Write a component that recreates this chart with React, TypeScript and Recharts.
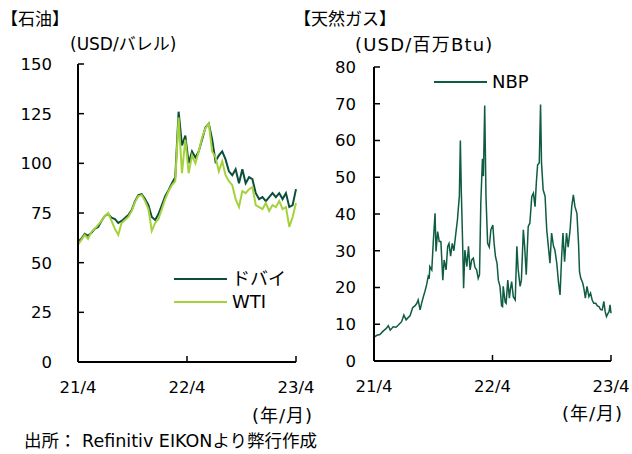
import React from 'react';
import { LineChart, Line, XAxis, YAxis } from 'recharts';

// 石油: ほぼ週次のサンプル(21/4〜23/4, index 0..65)
const oilTickIdx = [0, 32.5, 65];
const oilTickLabels = ['21/4', '22/4', '23/4'];
const oilYTicks = [0, 25, 50, 75, 100, 125, 150];

const dubai = [
  60.5, 62, 64.5, 63.5, 65, 67, 68, 71, 73.5, 74.5,
  72.7, 72, 70, 71, 72.5, 74, 76.5, 81, 84, 84.5,
  82, 79, 73, 71.5, 74.5, 79, 83.5, 86.5, 90, 93,
  126, 109, 114, 100, 106, 103, 106, 112, 118, 120,
  112, 101, 104, 106, 102, 96, 94, 97, 90, 97,
  90, 93, 92, 85, 82, 83, 81, 83, 85, 83,
  85, 82, 85, 78, 79, 87,
];

const wti = [
  59, 61.5, 64, 62, 65.5, 67, 69, 71, 73.5, 75,
  71, 67, 64, 70, 71.5, 73, 76, 80.5, 83.5, 84,
  81, 77, 66, 70, 72, 77, 82, 86, 89, 91,
  123, 95, 112, 95, 104, 100, 106, 113, 117.7, 120,
  106, 103, 96, 101, 94, 91, 89, 82, 78, 86,
  85, 87, 88, 79, 78, 77, 80, 76, 79, 78,
  81, 77, 78, 68, 73, 80,
];

// 天然ガス: 21/4 からの経過日数と NBP
const gasTickDays = [0, 365, 730];
const gasTickLabels = ['21/4', '22/4', '23/4'];
const gasYTicks = [0, 10, 20, 30, 40, 50, 60, 70, 80];

const gasDays = [
  0, 9, 18, 29, 37, 44, 50, 59, 68, 75, 85, 92, 99, 105, 111, 119, 126, 132, 136, 142,
  147, 152, 157, 162, 167, 170, 172, 178, 183, 188, 191, 196, 201, 206, 212, 216, 222, 227, 231, 236,
  241, 246, 251, 257, 263, 266, 269, 273, 276, 280, 286, 291, 296, 301, 306, 311, 316, 321, 325, 329,
  334, 337, 341, 345, 348, 350, 355, 360, 366, 370, 374, 379, 383, 388, 393, 396, 398, 404, 407, 412,
  417, 420, 424, 429, 435, 440, 444, 450, 454, 460, 464, 469, 475, 480, 486, 491, 496, 500, 504, 509,
  513, 516, 521, 527, 532, 537, 542, 547, 553, 557, 563, 568, 573, 578, 582, 587, 593, 598, 604, 609,
  614, 619, 625, 630, 633, 637, 643, 647, 651, 656, 662, 667, 672, 677, 683, 688, 693, 698, 703, 708,
  712, 716, 720, 724, 727, 730,
];

const nbp = [
  6.5, 7.0, 7.2, 8.2, 8.8, 9.6, 8.4, 9.3, 9.2, 9.8, 10.7, 12.5, 11.2, 11.8, 12.3, 14.5, 15.0, 15.7, 16.6, 13.9,
  15.8, 17.5, 19.0, 20.7, 23, 22.4, 25.7, 24.8, 33, 40.2, 29.8, 35.2, 32.5, 32.5, 22, 27.5, 24.8, 31.2, 32, 28.5,
  32, 30, 33.9, 38.4, 45, 60, 46, 32, 19.8, 30.2, 25.7, 31.2, 24.8, 27.5, 28, 25.5, 24.8, 22.5, 23.5, 43,
  55, 50.3, 69.5, 44.5, 37, 32, 31, 35.7, 37, 32, 28.5, 26.6, 22, 20.3, 15, 14.8, 20.3, 16, 15.7, 22,
  17.1, 19.5, 21.6, 17.5, 16.6, 31.2, 25, 20.3, 22, 35.7, 31.2, 23.5, 36.6, 37.5, 44.8, 45.7, 42, 48.5, 53.4, 53.9,
  69.8, 53.9, 46.6, 44.8, 35.7, 31.2, 26.6, 34.8, 31.2, 30.3, 26.6, 21.6, 18, 28.4, 34.8, 27, 34.8, 31, 35.7, 42,
  45.2, 42, 40.2, 32, 24.3, 22.5, 21.2, 19.5, 17.1, 20.3, 17.5, 18.5, 16.6, 15.7, 15.7, 15, 14.8, 14, 13.9, 16.2,
  13.5, 12.1, 12.8, 13.4, 15.3, 13,
];

const FONT = '"DejaVu Sans", "Noto Sans CJK JP", sans-serif';
const C_DUBAI = '#0b4f3a';
const C_WTI = '#a5d23c';
const C_NBP = '#0f5c43';

const tickStyle = { fill: '#000', fontSize: 16.5, fontFamily: FONT };
const axisLine = { stroke: '#000', strokeWidth: 2 };
const tickLine = { stroke: '#000', strokeWidth: 1.5 };

const abs = (left: number, top: number, extra: React.CSSProperties = {}): React.CSSProperties => ({
  position: 'absolute', left, top, whiteSpace: 'nowrap', lineHeight: 1, ...extra,
});

const LegendRow: React.FC<{ left: number; top: number; color: string; label: string }> = ({ left, top, color, label }) => (
  <div style={abs(left, top, { display: 'flex', alignItems: 'center', fontSize: 18 })}>
    <div style={{ width: 53, height: 2, background: color, marginRight: 5 }} />
    <span>{label}</span>
  </div>
);

export default function App() {
  const oilData = dubai.map((v, i) => ({ i, dubai: v, wti: wti[i] }));
  const gasData = gasDays.map((d, i) => ({ d, nbp: nbp[i] }));

  return (
    <div style={{ position: 'absolute', left: 0, top: 0, width: 632, height: 454, background: '#fff', fontFamily: FONT, color: '#000', overflow: 'hidden' }}>
      <div style={abs(1, 11, { fontSize: 17 })}>【石油】</div>
      <div style={abs(70, 36, { fontSize: 17 })}>(USD/バレル)</div>
      <div style={abs(294, 11, { fontSize: 17 })}>【天然ガス】</div>
      <div style={abs(355, 36, { fontSize: 18, letterSpacing: 1.2 })}>(USD/百万Btu)</div>

      <div style={abs(0, 0)}>
        <LineChart width={316} height={420} data={oilData} margin={{ top: 64, right: 20, bottom: 18, left: 18 }}>
          <XAxis
            dataKey="i"
            type="number"
            domain={[0, 65]}
            ticks={oilTickIdx}
            interval={0}
            tickFormatter={(v: number) => oilTickLabels[oilTickIdx.indexOf(v)] ?? ''}
            axisLine={axisLine}
            tickLine={tickLine}
            tickSize={-6}
            tickMargin={25}
            tick={tickStyle}
            height={40}
          />
          <YAxis
            type="number"
            domain={[0, 150]}
            ticks={oilYTicks}
            interval={0}
            axisLine={axisLine}
            tickLine={tickLine}
            tickSize={-6}
            tickMargin={32}
            tick={tickStyle}
            width={60}
          />
          <Line type="linear" dataKey="dubai" stroke={C_DUBAI} strokeWidth={2} dot={false} isAnimationActive={false} />
          <Line type="linear" dataKey="wti" stroke={C_WTI} strokeWidth={2} dot={false} isAnimationActive={false} />
        </LineChart>
      </div>

      <div style={abs(316, 0)}>
        <LineChart width={316} height={420} data={gasData} margin={{ top: 67, right: 21, bottom: 19, left: 18 }}>
          <XAxis
            dataKey="d"
            type="number"
            domain={[0, 730]}
            ticks={gasTickDays}
            interval={0}
            tickFormatter={(v: number) => gasTickLabels[gasTickDays.indexOf(v)] ?? ''}
            axisLine={axisLine}
            tickLine={tickLine}
            tickSize={-6}
            tickMargin={25}
            tick={tickStyle}
            height={40}
          />
          <YAxis
            type="number"
            domain={[0, 80]}
            ticks={gasYTicks}
            interval={0}
            axisLine={axisLine}
            tickLine={tickLine}
            tickSize={-6}
            tickMargin={24}
            tick={tickStyle}
            width={40}
          />
          <Line type="linear" dataKey="nbp" stroke={C_NBP} strokeWidth={1.5} dot={false} isAnimationActive={false} />
        </LineChart>
      </div>

      <LegendRow left={174} top={270} color={C_DUBAI} label="ドバイ" />
      <LegendRow left={174} top={293} color={C_WTI} label="WTI" />
      <LegendRow left={434} top={73} color={C_NBP} label="NBP" />

      <div style={abs(252, 407, { fontSize: 18, letterSpacing: 1 })}>(年/月)</div>
      <div style={abs(562, 405, { fontSize: 18, letterSpacing: 1 })}>(年/月)</div>
      <div style={abs(24, 433, { fontSize: 17.5 })}>出所： Refinitiv EIKONより弊行作成</div>
    </div>
  );
}
